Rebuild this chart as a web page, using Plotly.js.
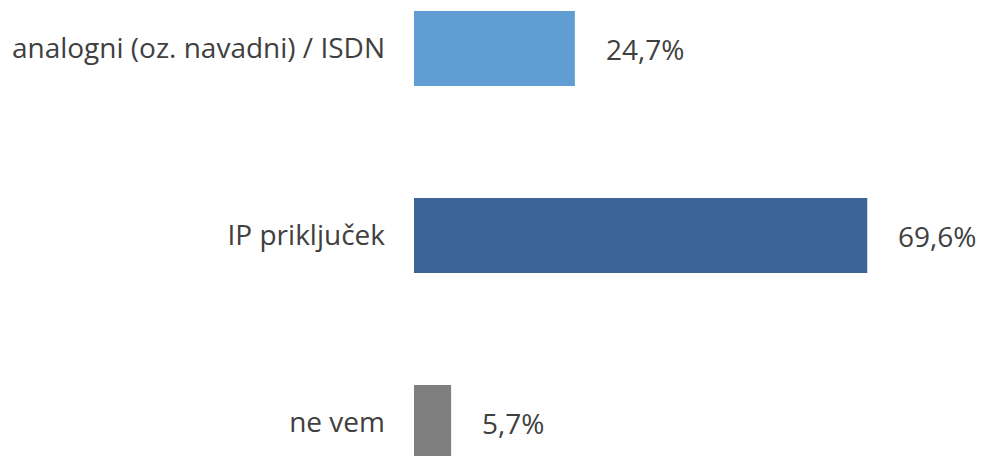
<!DOCTYPE html>
<html>
<head>
<meta charset="utf-8">
<script src="https://cdn.plot.ly/plotly-3.0.1.min.js"></script>
<style>html,body{margin:0;padding:0;background:#fff;}#chart{width:984px;height:456px;}</style>
</head>
<body>
<div id="chart"></div>
<script>
const categories = ["analogni (oz. navadni) / ISDN", "IP priključek", "ne vem"];
const values = [24.7, 69.6, 5.7];
const valueLabels = ["24,7%", "69,6%", "5,7%"];
const barColors = ["#5f9dd3", "#3c6496", "#7f7f7f"];

const font = {family: "Open Sans, sans-serif", size: 28, color: "#404040"};

const trace = {
  type: "bar",
  orientation: "h",
  y: categories,
  x: values,
  marker: {color: barColors, line: {width: 0}},
  width: 0.401,
  hoverinfo: "none"
};

const annotations = categories.map((c, i) => ({
  x: values[i], y: c, xref: "x", yref: "y",
  text: valueLabels[i], showarrow: false,
  xanchor: "left", yanchor: "middle", xshift: 29,
  font: font
}));

const layout = {
  width: 984, height: 456,
  margin: {l: 414, r: 49, t: 0, b: 0, pad: 0},
  paper_bgcolor: "#ffffff", plot_bgcolor: "#ffffff",
  showlegend: false,
  xaxis: {range: [0, 80], visible: false, fixedrange: true},
  yaxis: {
    type: "category",
    range: [2.179, -0.2594],
    showgrid: false, zeroline: false, showline: false,
    ticks: "", ticklabelstandoff: 28,
    tickfont: font, fixedrange: true
  },
  annotations: annotations,
  font: font
};

Plotly.newPlot("chart", [trace], layout, {displayModeBar: false, staticPlot: true});
</script>
</body>
</html>
